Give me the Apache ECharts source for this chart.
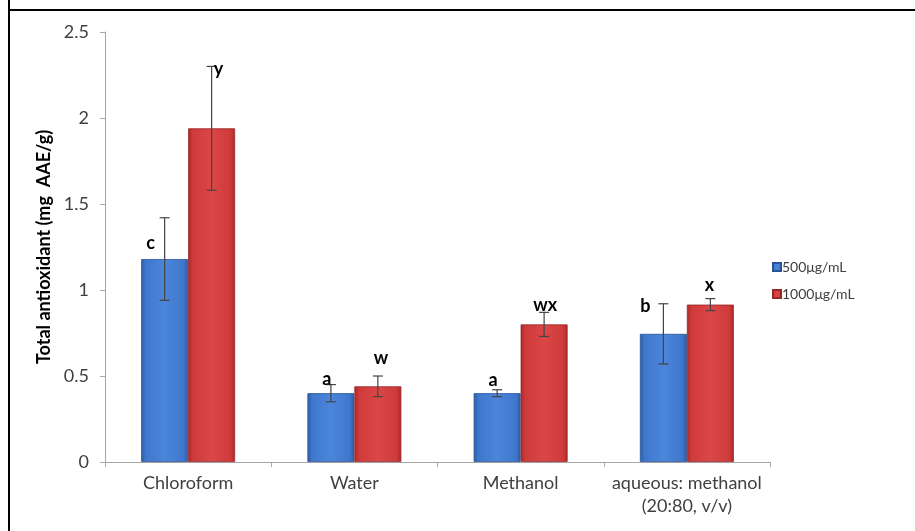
<!DOCTYPE html>
<html>
<head>
<meta charset="utf-8">
<script src="https://cdn.jsdelivr.net/npm/echarts@6/dist/echarts.min.js"></script>
<style>
  html, body { margin: 0; padding: 0; background: #fff; }
  #chart { width: 915px; height: 531px; }
</style>
</head>
<body>
<div id="chart"></div>
<script>
// Extract categories and measured values
const categories = ['Chloroform', 'Water', 'Methanol', 'aqueous: methanol\n(20:80, v/v)'];
const seriesNames = ['500μg/mL', '1000μg/mL'];
const low = [1.18, 0.40, 0.40, 0.745];      // 500 µg/mL means
const high = [1.94, 0.44, 0.80, 0.915];     // 1000 µg/mL means
const lowErr = [0.24, 0.05, 0.02, 0.175];   // ± error
const highErr = [0.36, 0.06, 0.07, 0.035];
const lowLetters = ['c', 'a', 'a', 'b'];
const highLetters = ['y', 'w', 'wx', 'x'];
const yTicks = [0, 0.5, 1, 1.5, 2, 2.5];

const FONT = 'Lato, "Open Sans", sans-serif';
const GAP = 0.435; // share of a category left empty
// letter placement relative to the error-bar cap [dx, dy]
const letterShift = {
  '0-0': [-14, 25], '0-1': [7, 3],
  '1-0': [-4, -5], '1-1': [3, -18],
  '2-0': [-4, -10], '2-1': [1, -7],
  '3-0': [-18, 2], '3-1': [-1, -13]
};

const chart = echarts.init(document.getElementById('chart'));

function barFill(edge, mid, light) {
  return {
    type: 'linear', x: 0, y: 0, x2: 1, y2: 0,
    colorStops: [
      { offset: 0, color: edge },
      { offset: 0.1, color: mid },
      { offset: 0.5, color: light },
      { offset: 0.9, color: mid },
      { offset: 1, color: edge }
    ]
  };
}

const errData = categories.map((c, i) => [i, low[i], lowErr[i], high[i], highErr[i]]);

chart.setOption({
  animation: false,
  backgroundColor: '#fff',
  textStyle: { fontFamily: FONT },
  graphic: [
    { type: 'line', shape: { x1: 9, y1: 0, x2: 9, y2: 531 }, style: { stroke: '#000', lineWidth: 2 }, silent: true },
    { type: 'line', shape: { x1: 8, y1: 10, x2: 915, y2: 10 }, style: { stroke: '#000', lineWidth: 2 }, silent: true }
  ],
  legend: {
    orient: 'vertical',
    left: 767,
    top: 255,
    itemWidth: 8,
    itemHeight: 8,
    itemGap: 13,
    icon: 'rect',
    data: seriesNames,
    textStyle: { fontSize: 14, color: '#404040', fontFamily: FONT, padding: [0, 0, 0, -4] }
  },
  grid: { left: 105, top: 32, width: 665, height: 430, containLabel: false },
  xAxis: {
    type: 'category',
    data: categories,
    axisLine: { show: true, lineStyle: { color: '#a6a6a6' } },
    axisTick: { show: true, alignWithLabel: false, length: 5, lineStyle: { color: '#a6a6a6' } },
    axisLabel: { fontSize: 18, color: '#404040', margin: 10, lineHeight: 23, interval: 0 }
  },
  yAxis: {
    type: 'value',
    min: 0, max: 2.5, interval: 0.5,
    name: 'Total antioxidant (mg  AAE/g)',
    nameLocation: 'middle',
    nameGap: 52,
    nameTextStyle: { fontSize: 18, fontWeight: 'bold', color: '#000' },
    axisLine: { show: true, lineStyle: { color: '#a6a6a6' } },
    axisTick: { show: true, length: 5, lineStyle: { color: '#a6a6a6' } },
    splitLine: { show: false },
    axisLabel: {
      fontSize: 18, color: '#404040', margin: 16,
      formatter: v => yTicks.includes(v) ? String(v) : ''
    }
  },
  series: [
    {
      name: seriesNames[0], type: 'bar', data: low,
      barGap: '0%', barCategoryGap: (GAP * 100) + '%',
      itemStyle: {
        color: barFill('#2d5ca8', '#3f77cc', '#4b86da'),
        borderColor: '#2a5395', borderWidth: 0.8
      }
    },
    {
      name: seriesNames[1], type: 'bar', data: high,
      itemStyle: {
        color: barFill('#a82a2a', '#cf3a3a', '#db4747'),
        borderColor: '#982626', borderWidth: 0.8
      }
    },
    {
      type: 'custom',
      data: errData,
      z: 10,
      renderItem: function (params, api) {
        const i = api.value(0);
        const band = api.size([1, 0])[0];
        const bw = band * (1 - GAP) / 2;
        const center = api.coord([i, 0])[0];
        const kids = [];
        const sets = [
          [api.value(1), api.value(2), center - bw / 2, lowLetters[i], i + '-0'],
          [api.value(3), api.value(4), center + bw / 2, highLetters[i], i + '-1']
        ];
        sets.forEach(([m, e, x, letter, key]) => {
          const yTop = api.coord([i, m + e])[1];
          const yBot = api.coord([i, m - e])[1];
          const cap = 5;
          const ls = { stroke: '#444', lineWidth: 1.2 };
          kids.push({ type: 'line', shape: { x1: x, y1: yTop, x2: x, y2: yBot }, style: ls });
          kids.push({ type: 'line', shape: { x1: x - cap, y1: yTop, x2: x + cap, y2: yTop }, style: ls });
          kids.push({ type: 'line', shape: { x1: x - cap, y1: yBot, x2: x + cap, y2: yBot }, style: ls });
          const s = letterShift[key];
          kids.push({
            type: 'text',
            style: {
              x: x + s[0], y: yTop + s[1], text: letter,
              fill: '#000', font: 'bold 18px ' + FONT,
              align: 'center', verticalAlign: 'middle'
            }
          });
        });
        return { type: 'group', children: kids };
      }
    }
  ]
});
</script>
</body>
</html>
